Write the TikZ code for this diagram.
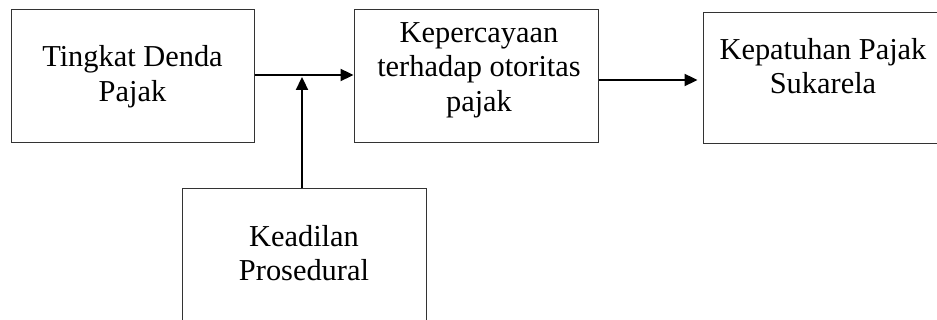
\documentclass[tikz,border=0pt]{standalone}
\usepackage{fontspec}
\setmainfont{Liberation Serif}
\usetikzlibrary{arrows.meta,calc}
\begin{document}
\begin{tikzpicture}[x=1pt,y=1pt,
  box/.style={draw=black!80,line width=1pt,rectangle,inner sep=0pt},
  txt/.style={align=center,anchor=base,inner sep=0pt,font=\fontsize{30.4}{34.5}\selectfont},
  arr/.style={line width=2.3pt,-{Triangle[length=13pt,width=12pt]}}]
\clip (0,0) rectangle (937,-320);
\fill[white] (0,0) rectangle (937,-320);
% boxes
\node[box,minimum width=243pt,minimum height=133pt] (b1) at (132.5,-76.5) {};
\node[box,minimum width=244pt,minimum height=133pt] (b2) at (476,-76.5) {};
\node[box,minimum width=240pt,minimum height=131pt] (b3) at (823,-78.5) {};
\node[box,minimum width=244pt,minimum height=150pt] (b4) at (304,-264) {};
% texts (base anchor = last line)
\node[txt] (t1) at (132.5,-101.5) {Tingkat Denda\\Pajak};
\node[txt] (t2) at (479,-111.5) {Kepercayaan\\terhadap otoritas\\pajak};
\node[txt] (t3) at (823,-94) {Kepatuhan Pajak\\Sukarela};
\node[txt] (t4) at (304,-281) {Keadilan\\Prosedural};
% connectors
\coordinate (j) at (302,-75);
\coordinate (jt) at (302,-77);
\draw[arr] (b1.east |- j) -- (b2.west |- j);
\draw[arr] (b4.north -| j) -- (jt);
\draw[arr] ([yshift=-3.5pt]b2.east) -- ([xshift=-5pt,yshift=-1.5pt]b3.west);
\end{tikzpicture}
\end{document}
